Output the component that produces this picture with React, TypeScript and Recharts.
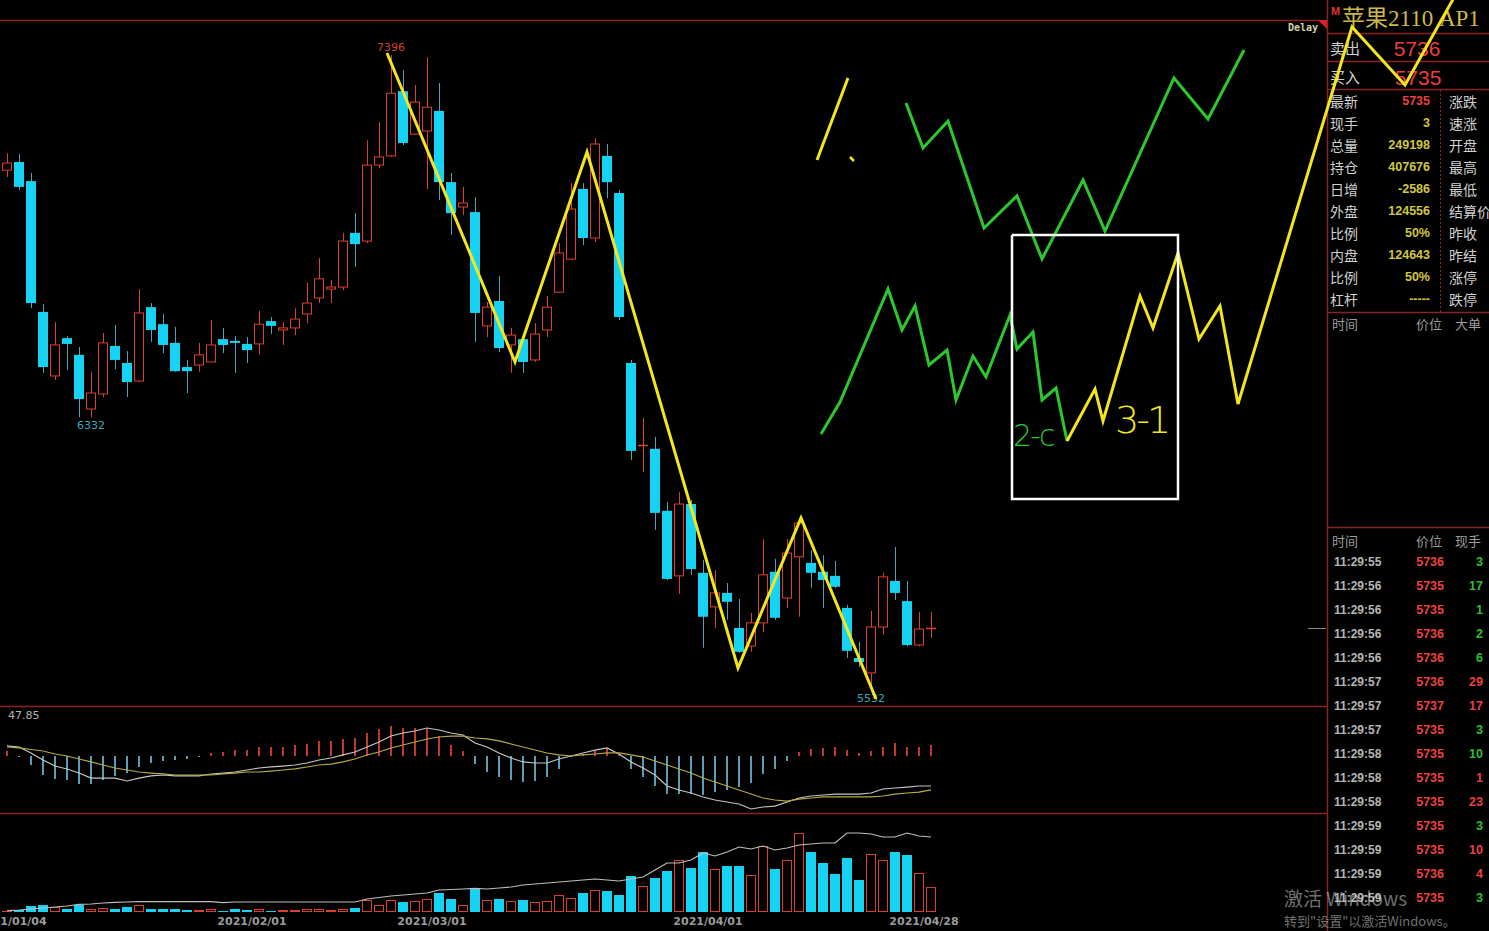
import React from 'react';
import { ComposedChart, LineChart, Bar, Line, XAxis, YAxis, Cell, ReferenceDot } from 'recharts';

// ---------- data ----------
const dates = [
  '2020/12/31',
  '2021/01/04','2021/01/05','2021/01/06','2021/01/07','2021/01/08','2021/01/11','2021/01/12','2021/01/13','2021/01/14','2021/01/15',
  '2021/01/18','2021/01/19','2021/01/20','2021/01/21','2021/01/22','2021/01/25','2021/01/26','2021/01/27','2021/01/28','2021/01/29',
  '2021/02/01','2021/02/02','2021/02/03','2021/02/04','2021/02/05','2021/02/08','2021/02/09','2021/02/10',
  '2021/02/18','2021/02/19','2021/02/22','2021/02/23','2021/02/24','2021/02/25','2021/02/26',
  '2021/03/01','2021/03/02','2021/03/03','2021/03/04','2021/03/05','2021/03/08','2021/03/09','2021/03/10','2021/03/11','2021/03/12',
  '2021/03/15','2021/03/16','2021/03/17','2021/03/18','2021/03/19','2021/03/22','2021/03/23','2021/03/24','2021/03/25','2021/03/26',
  '2021/03/29','2021/03/30','2021/03/31',
  '2021/04/01','2021/04/02','2021/04/06','2021/04/07','2021/04/08','2021/04/09','2021/04/12','2021/04/13','2021/04/14','2021/04/15',
  '2021/04/16','2021/04/19','2021/04/20','2021/04/21','2021/04/22','2021/04/23','2021/04/26','2021/04/27','2021/04/28',
];
const openP = [
  7058,7082,7026,6642,6454,6565,6516,6357,6401,6542,
  6492,6439,6656,6606,6551,6480,6486,6495,6562,6557,
  6548,6548,6615,6589,6595,6636,6683,6709,6715,6874,
  6850,7073,7100,7290,7164,7173,7232,7023,6950,6935,
  6601,6674,6545,6562,6501,6589,6700,6797,7003,6859,
  7100,6991,6492,6249,6240,6058,5867,6078,5876,5776,
  5817,5714,5661,5729,5879,5802,5923,5905,5879,5867,
  5773,5626,5582,5717,5852,5793,5664,5711,
];
const highP = [
  7108,7105,7050,6665,6612,6571,6539,6466,6580,6604,
  6527,6709,6668,6636,6598,6501,6551,6618,6595,6571,
  6568,6645,6627,6612,6653,6727,6800,6736,6874,6932,
  7146,7199,7396,7352,7308,7390,7314,7050,7009,6979,
  6671,6747,6595,6580,6609,6689,6844,7020,7020,7152,
  7135,7000,6501,6331,6275,6084,6113,6090,5914,5884,
  5846,5799,5758,5975,5917,5975,6031,5943,5928,5911,
  5782,5673,5764,5876,5952,5852,5761,5761,
];
const lowP = [
  7038,7000,6653,6463,6442,6471,6333,6332,6392,6474,
  6392,6436,6554,6521,6466,6404,6466,6495,6521,6463,
  6492,6516,6577,6545,6574,6609,6668,6668,6706,6774,
  6844,7064,7097,7132,7161,7003,6970,6868,6926,6554,
  6568,6524,6463,6463,6495,6568,6697,6794,6838,6847,
  6976,6618,6207,6172,6002,5855,5814,5870,5656,5714,
  5738,5641,5644,5702,5738,5773,5747,5832,5773,5832,
  5626,5600,5532,5694,5796,5660,5660,5685,
];
const closeP = [
  7079,7009,6668,6480,6545,6548,6386,6404,6551,6501,
  6436,6639,6589,6545,6468,6468,6516,6545,6545,6551,
  6530,6606,6601,6595,6621,6668,6739,6715,6850,6841,
  7073,7097,7284,7138,7258,7243,7023,6932,6962,6639,
  6656,6536,6574,6495,6577,6656,6815,6944,6859,7135,
  7023,6627,6234,6251,6052,5858,6078,5887,5747,5817,
  5791,5644,5729,5870,5744,5934,6022,5876,5855,5835,
  5647,5614,5717,5864,5817,5664,5711,5714,
];
const volume = [
  10000,20000,60000,70000,50000,30000,70000,30000,40000,30000,
  50000,70000,30000,30000,30000,20000,20000,30000,10000,30000,
  20000,30000,10000,20000,20000,30000,30000,20000,30000,40000,
  120000,70000,120000,100000,110000,130000,190000,130000,70000,240000,
  120000,130000,110000,120000,100000,110000,170000,140000,190000,220000,
  210000,170000,360000,260000,340000,410000,520000,440000,600000,430000,
  460000,460000,370000,660000,430000,520000,790000,600000,490000,380000,
  540000,320000,580000,520000,600000,570000,390000,249198,
];
const volumeMA = [
  13000,20000,30000,40000,50000,60000,77000,80000,90000,97000,
  100000,103000,103000,103000,103000,103000,103000,103000,93000,100000,
  100000,100000,100000,100000,100000,100000,100000,100000,100000,100000,
  130000,145000,160000,170000,180000,190000,220000,225000,230000,237000,
  230000,240000,250000,270000,280000,290000,300000,310000,320000,330000,
  320000,310000,330000,350000,420000,490000,490000,520000,590000,560000,
  600000,650000,630000,660000,620000,640000,670000,680000,690000,690000,
  790000,790000,780000,750000,750000,790000,760000,750000,
];
const macdDif = [
  9.6,8.6,2.9,-3.8,-9.6,-12.4,-16.3,-21.1,-21.1,-21.1,
  -23.9,-21.1,-19.1,-18.2,-19.1,-19.1,-19.1,-17.2,-16.3,-15.3,
  -13.4,-11.5,-10.5,-9.6,-8.6,-6.7,-3.8,-1.9,1.0,3.8,
  8.6,13.4,19.1,22.0,23.9,26.8,24.9,22.0,20.1,12.4,
  8.6,2.9,-1.9,-5.7,-6.7,-6.7,-2.9,0,2.9,5.7,
  7.7,1.9,-5.7,-11.5,-18.2,-28.7,-32.5,-35.4,-39.2,-42.1,
  -44.0,-45.9,-50.7,-48.8,-47.9,-44.0,-40.2,-38.3,-37.3,-36.4,
  -36.4,-36.4,-35.4,-31.6,-30.6,-29.7,-28.7,-28.7,
];
const macdDea = [
  8.6,7.7,6.2,4.8,1.9,0,-2.9,-5.7,-8.6,-11.5,
  -13.4,-15.3,-16.3,-17.2,-18.2,-18.2,-18.2,-18.2,-17.2,-16.3,
  -15.3,-15.3,-14.4,-13.4,-12.4,-10.5,-8.6,-7.7,-5.7,-2.9,
  1.0,3.8,7.7,10.5,13.4,16.3,18.2,19.1,19.1,17.2,
  16.3,14.4,11.5,8.6,5.7,2.9,1.0,0,1.0,1.9,
  2.9,2.9,1.0,-1.0,-4.8,-8.6,-12.4,-16.3,-21.1,-24.9,
  -28.7,-32.5,-36.4,-40.2,-42.1,-43.1,-41.2,-40.2,-39.2,-39.2,
  -39.2,-39.2,-39.2,-38.3,-36.4,-35.4,-34.5,-32.5,
];
const macdHist = [
  4.8,-1.0,-8.6,-18.2,-22.0,-23.0,-26.8,-26.8,-23.0,-19.1,
  -16.3,-10.5,-6.7,-4.8,-3.8,-2.9,-1.0,2.9,3.8,5.7,
  5.7,8.6,8.6,8.6,10.5,11.5,14.4,14.4,16.3,17.2,
  22.0,25.8,28.7,26.8,26.8,25.8,19.1,10.5,4.8,-7.7,
  -15.3,-20.1,-23.0,-24.9,-23.9,-20.1,-12.4,-1.0,1.9,4.8,
  7.7,1.9,-12.4,-20.1,-28.7,-36.4,-36.4,-36.4,-37.3,-34.5,
  -32.5,-29.7,-25.8,-17.2,-12.4,-4.8,3.8,6.7,7.7,8.6,
  5.7,2.9,4.8,8.6,12.4,8.6,8.6,10.5,
];
const dateTickIdx = [1, 21, 36, 59, 77];
const PAD_SLOTS = 32;

// right panel
const title = '苹果2110 AP1';
const askLabel = '卖出', askPrice = '5736';
const bidLabel = '买入', bidPrice = '5735';
const quoteLabels = ['最新','现手','总量','持仓','日增','外盘','比例','内盘','比例','杠杆'];
const quoteValues = ['5735','3','249198','407676','-2586','124556','50%','124643','50%','-----'];
const sideLabels = ['涨跌','速涨','开盘','最高','最低','结算价','昨收','昨结','涨停','跌停'];
const tickTimes = ['11:29:55','11:29:56','11:29:56','11:29:56','11:29:56','11:29:57','11:29:57','11:29:57','11:29:58','11:29:58','11:29:58','11:29:59','11:29:59','11:29:59','11:29:59'];
const tickPrices = ['5736','5735','5735','5736','5736','5736','5737','5735','5735','5735','5735','5735','5735','5736','5735'];
const tickVols = ['3','17','1','2','6','29','17','3','10','1','23','3','10','4','3'];
const tickBuy = [false,false,false,false,false,true,true,false,false,true,true,false,true,true,false];

// hand-drawn annotations (page pixel space)
const yellowZig = [{x:387,y:53},{x:515,y:362},{x:587,y:152},{x:738,y:668},{x:801,y:518},{x:876,y:699}];
const yellowOne = [{x:817,y:160},{x:848,y:78}];
const yellowDot = [{x:850,y:157},{x:854,y:161}];
const greenUpper = [{x:906,y:103},{x:923,y:148},{x:948,y:121},{x:984,y:228},{x:1017,y:196},{x:1042,y:259},{x:1083,y:180},{x:1105,y:231},{x:1174,y:78},{x:1208,y:119},{x:1244,y:50}];
const greenLower = [{x:821,y:434},{x:840,y:402},{x:888,y:289},{x:902,y:330},{x:915,y:306},{x:929,y:365},{x:947,y:350},{x:956,y:400},{x:973,y:356},{x:986,y:377},{x:1010,y:315},{x:1017,y:349},{x:1033,y:332},{x:1042,y:400},{x:1056,y:388},{x:1067,y:441}];
const yellowRight = [{x:1067,y:441},{x:1095,y:389},{x:1103,y:421},{x:1140,y:296},{x:1153,y:328},{x:1178,y:253},{x:1199,y:339},{x:1220,y:306},{x:1238,y:404},{x:1352,y:27},{x:1405,y:85},{x:1456,y:-6}];
const whiteBox = [{x:1012,y:235},{x:1178,y:235},{x:1178,y:499},{x:1012,y:499},{x:1012,y:235}];

// ---------- build table ----------
const rows: any[] = [];
for (let i = 0; i < dates.length + PAD_SLOTS; i++) {
  if (i < dates.length) {
    rows.push({
      i, date: dates[i], o: openP[i], h: highP[i], l: lowP[i], c: closeP[i],
      range: [lowP[i], highP[i]], vol: volume[i], volMA: volumeMA[i],
      dif: macdDif[i], dea: macdDea[i], hist: macdHist[i],
    });
  } else {
    rows.push({ i, date: '', o: null, h: null, l: null, c: null, range: null, vol: null, volMA: null, dif: null, dea: null, hist: null });
  }
}

const RED = '#d9422f';
const CYAN = '#17d3f3';
const CYAN_WICK = '#4fa2b5';
const FRAME = '#8a2323';

function Candle(props: any) {
  const { x, y, width, height, payload } = props;
  if (!payload || payload.o == null) return null;
  const top = Math.min(y, y + height);
  const hgt = Math.abs(height);
  const { o, h, l, c } = payload;
  const k = h > l ? hgt / (h - l) : 0;
  const py = (p: number) => top + (h - p) * k;
  const cx = Math.round(x + width / 2) + 0.5;
  const bt = py(Math.max(o, c));
  const bb = py(Math.min(o, c));
  if (c >= o) {
    if (bb - bt < 1.5) {
      return (
        <g>
          <line x1={cx} x2={cx} y1={py(h)} y2={py(l)} stroke={RED} strokeWidth={1} />
          <line x1={x} x2={x + width} y1={Math.round(bt) + 0.5} y2={Math.round(bt) + 0.5} stroke={RED} strokeWidth={1.5} />
        </g>
      );
    }
    return (
      <g>
        <line x1={cx} x2={cx} y1={py(h)} y2={bt} stroke={RED} strokeWidth={1} />
        <line x1={cx} x2={cx} y1={bb} y2={py(l)} stroke={RED} strokeWidth={1} />
        <rect x={x + 0.5} y={bt} width={width - 1} height={bb - bt} fill="#000" stroke={RED} strokeWidth={1} />
      </g>
    );
  }
  return (
    <g>
      <line x1={cx} x2={cx} y1={py(h)} y2={py(l)} stroke={CYAN_WICK} strokeWidth={1} />
      <rect x={x} y={bt} width={width} height={Math.max(bb - bt, 1.5)} fill={CYAN} />
    </g>
  );
}

function VolBar(props: any) {
  const { x, y, width, height, payload } = props;
  if (!payload || payload.vol == null) return null;
  const top = Math.min(y, y + height);
  const hgt = Math.abs(height);
  if (payload.c >= payload.o) {
    return <rect x={x + 0.5} y={top + 0.5} width={width - 1} height={Math.max(hgt - 1, 0.5)} fill="#000" stroke={RED} strokeWidth={1} />;
  }
  return <rect x={x} y={top} width={width} height={hgt} fill={CYAN} />;
}

function DateTick(props: any) {
  const { x, y, payload } = props;
  const label = dates[payload.value] || '';
  return (
    <text x={x - 7} y={y + 5} textAnchor="middle" fill="#9c9c9c" fontSize={11} fontWeight={700} fontFamily="DejaVu Sans, sans-serif">
      {label}
    </text>
  );
}

const T = ({ x, y, s, c, a = 'left', w = 400, f, children }: any) => (
  <div
    style={{
      position: 'absolute', left: x, top: y,
      transform: a === 'left' ? 'translateY(-50%)' : a === 'right' ? 'translate(-100%,-50%)' : 'translate(-50%,-50%)',
      fontSize: s, color: c, fontWeight: w, fontFamily: f, lineHeight: 1, whiteSpace: 'nowrap',
    }}
  >
    {children}
  </div>
);

const CJK = '"Noto Sans CJK SC", "Liberation Sans", sans-serif';
const NUM = '"Liberation Sans", Arial, sans-serif';

export default function App() {
  const plotW = 1 + (dates.length + PAD_SLOTS) * 12;
  const overlays = [
    { pts: yellowZig, c: '#f3e61c', w: 3 },
    { pts: yellowOne, c: '#f3e61c', w: 3 },
    { pts: yellowDot, c: '#f3e61c', w: 2.5 },
    { pts: greenUpper, c: '#2cc82c', w: 3 },
    { pts: greenLower, c: '#2cc82c', w: 3 },
    { pts: yellowRight, c: '#f3e61c', w: 3 },
    { pts: whiteBox, c: '#ffffff', w: 2.5 },
  ];
  return (
    <div style={{ position: 'absolute', left: 0, top: 0, width: 1489, height: 931, background: '#000', overflow: 'hidden', fontFamily: CJK }}>
      {/* frame lines */}
      <svg width={1489} height={931} style={{ position: 'absolute', left: 0, top: 0 }}>
        <line x1={0} x2={1320} y1={20.5} y2={20.5} stroke={FRAME} strokeWidth={1.5} />
        <polygon points="1318,20 1327,20 1327,29" fill="#e02020" />
        <line x1={0} x2={1327} y1={706.5} y2={706.5} stroke={FRAME} strokeWidth={1.5} />
        <line x1={0} x2={1327} y1={813.5} y2={813.5} stroke={FRAME} strokeWidth={1.5} />
        <line x1={1327.5} x2={1327.5} y1={0} y2={931} stroke={FRAME} strokeWidth={1.5} />
        {[33.5, 61.5, 89.5, 312.5, 527.5].map((yy) => (
          <line key={yy} x1={1328} x2={1489} y1={yy} y2={yy} stroke={FRAME} strokeWidth={1.5} />
        ))}
        <line x1={1440.5} x2={1440.5} y1={90} y2={312} stroke={FRAME} strokeWidth={1} strokeDasharray="2 2" />
        <line x1={1308} x2={1326} y1={628.5} y2={628.5} stroke="#8a8a8a" strokeWidth={1} />
      </svg>

      {/* price panel */}
      <div style={{ position: 'absolute', left: 0, top: 20 }}>
        <ComposedChart width={plotW} height={686} data={rows} margin={{ top: 0, right: 0, bottom: 0, left: 1 }}>
          <XAxis dataKey="i" type="category" hide />
          <YAxis type="number" domain={[5485, 7499]} hide allowDataOverflow />
          <Bar dataKey="range" barSize={10} shape={<Candle />} isAnimationActive={false} />
          <ReferenceDot x={32} y={7396} r={0} fill="none" stroke="none"
            label={{ value: '7396', position: 'top', fill: '#d2412f', fontSize: 11, fontFamily: 'DejaVu Sans, sans-serif', offset: 4 }} />
          <ReferenceDot x={7} y={6332} r={0} fill="none" stroke="none"
            label={{ value: '6332', position: 'bottom', fill: '#3ea6bd', fontSize: 11, fontFamily: 'DejaVu Sans, sans-serif', offset: 4 }} />
          <ReferenceDot x={72} y={5532} r={0} fill="none" stroke="none"
            label={{ value: '5532', position: 'bottom', fill: '#3ea6bd', fontSize: 11, fontFamily: 'DejaVu Sans, sans-serif', offset: 4 }} />
        </ComposedChart>
      </div>

      {/* MACD panel */}
      <div style={{ position: 'absolute', left: 0, top: 706 }}>
        <ComposedChart width={plotW} height={107} data={rows} margin={{ top: 0, right: 0, bottom: 0, left: 1 }}>
          <XAxis dataKey="i" type="category" hide />
          <YAxis type="number" domain={[-54.55, 47.85]} hide allowDataOverflow />
          <Bar dataKey="hist" barSize={2} isAnimationActive={false}>
            {rows.map((r) => (
              <Cell key={r.i} fill={r.hist != null && r.hist >= 0 ? '#c23a2e' : '#5b9db2'} />
            ))}
          </Bar>
          <Line dataKey="dif" stroke="#c4c4c4" strokeWidth={1.2} dot={false} isAnimationActive={false} />
          <Line dataKey="dea" stroke="#b7a846" strokeWidth={1.2} dot={false} isAnimationActive={false} />
        </ComposedChart>
      </div>

      {/* volume panel */}
      <div style={{ position: 'absolute', left: 0, top: 813 }}>
        <ComposedChart width={plotW} height={118} data={rows} margin={{ top: 0, right: 0, bottom: 0, left: 1 }}>
          <XAxis dataKey="i" type="category" ticks={dateTickIdx} interval={0} tick={<DateTick />}
            axisLine={false} tickLine={false} height={19} />
          <YAxis type="number" domain={[0, 990000]} hide allowDataOverflow />
          <Bar dataKey="vol" barSize={10} shape={<VolBar />} isAnimationActive={false} />
          <Line dataKey="volMA" stroke="#bdbdbd" strokeWidth={1.2} dot={false} isAnimationActive={false} />
        </ComposedChart>
      </div>

      <T x={8} y={715} s={11} c="#b4b4b4" f="DejaVu Sans, sans-serif">47.85</T>
      <T x={1288} y={28} s={10} c="#d6cfa4" w={700} f="DejaVu Sans Mono, monospace">Delay</T>

      {/* right panel */}
      <T x={1331} y={11} s={11} c="#e33030" w={700} f={NUM}>M</T>
      <T x={1342} y={18} s={23} c="#cdb94a" f='"Liberation Serif", "Noto Sans CJK SC", serif'>{title}</T>
      <T x={1330} y={47} s={15} c="#d0d0d0">{askLabel}</T>
      <T x={1417} y={48} s={21} c="#ee3c3c" a="center" f={NUM}>{askPrice}</T>
      <T x={1330} y={76} s={15} c="#d0d0d0">{bidLabel}</T>
      <T x={1418} y={77} s={21} c="#ee3c3c" a="center" f={NUM}>{bidPrice}</T>
      {quoteLabels.map((lab, k) => (
        <React.Fragment key={'q' + k}>
          <T x={1330} y={101 + k * 22} s={14} c="#d0d0d0">{lab}</T>
          <T x={1430} y={101 + k * 22} s={12.5} c={k === 0 ? '#ec4040' : '#d2c63e'} a="right" w={700} f={NUM}>{quoteValues[k]}</T>
          <T x={1449} y={101 + k * 22} s={14} c="#d0d0d0">{sideLabels[k]}</T>
        </React.Fragment>
      ))}
      <T x={1332} y={323} s={13} c="#9c9c9c">时间</T>
      <T x={1416} y={323} s={13} c="#9c9c9c">价位</T>
      <T x={1455} y={323} s={13} c="#9c9c9c">大单</T>
      <T x={1332} y={540} s={13} c="#9c9c9c">时间</T>
      <T x={1416} y={540} s={13} c="#9c9c9c">价位</T>
      <T x={1455} y={540} s={13} c="#9c9c9c">现手</T>
      {tickTimes.map((tm, k) => (
        <React.Fragment key={'t' + k}>
          <T x={1334} y={562 + k * 24} s={12} c="#b6b6b6" w={700} f={NUM}>{tm}</T>
          <T x={1444} y={562 + k * 24} s={12.5} c="#ec4040" a="right" w={700} f={NUM}>{tickPrices[k]}</T>
          <T x={1483} y={562 + k * 24} s={12.5} c={tickBuy[k] ? '#ec4040' : '#2fbf2f'} a="right" w={700} f={NUM}>{tickVols[k]}</T>
        </React.Fragment>
      ))}
      <T x={1284} y={897} s={19} c="rgba(210,210,210,0.55)">激活 Windows</T>
      <T x={1284} y={920} s={13} c="rgba(210,210,210,0.55)">转到"设置"以激活Windows。</T>

      {/* hand-drawn annotations */}
      <div style={{ position: 'absolute', left: 0, top: 0, pointerEvents: 'none', zIndex: 5 }}>
        <LineChart width={1489} height={931} margin={{ top: 0, right: 0, bottom: 0, left: 0 }}>
          <XAxis type="number" dataKey="x" domain={[0, 1489]} hide allowDataOverflow />
          <YAxis type="number" dataKey="y" domain={[0, 931]} reversed hide allowDataOverflow />
          {overlays.map((o, k) => (
            <Line key={k} data={o.pts} dataKey="y" type="linear" stroke={o.c} strokeWidth={o.w}
              dot={false} isAnimationActive={false} strokeLinejoin="miter" />
          ))}
        </LineChart>
      </div>
      <T x={1013} y={436} s={30} c="#2cc82c" w={300} f="DejaVu Sans, sans-serif">
        <span style={{ letterSpacing: -2 }}>2-c</span>
      </T>
      <T x={1115} y={420} s={38} c="#f3e61c" w={300} f="DejaVu Sans, sans-serif">
        <span style={{ letterSpacing: -3 }}>3-1</span>
      </T>
    </div>
  );
}
